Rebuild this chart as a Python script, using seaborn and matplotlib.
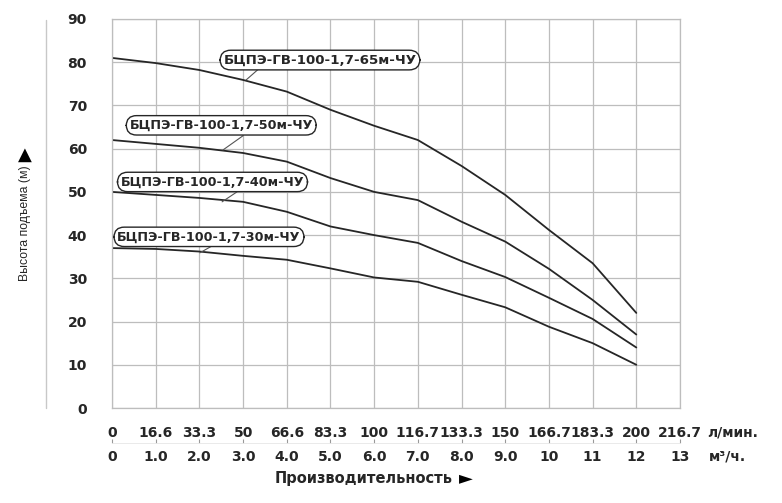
import matplotlib
matplotlib.use("Agg")
import matplotlib.pyplot as plt
import matplotlib.transforms as mtransforms
import seaborn as sns
import pandas as pd

# flow, m3/h
flow = [0, 1, 2, 3, 4, 5, 6, 7, 8, 9, 10, 11, 12]
head_65 = [81, 79.8, 78.2, 75.9, 73.2, 69, 65.3, 62, 56, 49.3, 41.2, 33.5, 22]
head_50 = [62, 61.1, 60.2, 59, 57, 53.2, 50, 48.1, 43.1, 38.5, 32.2, 25, 17]
head_40 = [50, 49.3, 48.6, 47.7, 45.4, 42, 40, 38.2, 34, 30.3, 25.5, 20.6, 14]
head_30 = [37, 36.8, 36.2, 35.2, 34.3, 32.3, 30.2, 29.2, 26.2, 23.3, 18.8, 15, 10]

names = ["БЦПЭ-ГВ-100-1,7-65м-ЧУ", "БЦПЭ-ГВ-100-1,7-50м-ЧУ",
         "БЦПЭ-ГВ-100-1,7-40м-ЧУ", "БЦПЭ-ГВ-100-1,7-30м-ЧУ"]
heads = [head_65, head_50, head_40, head_30]

lpm_ticks = [0, 1, 2, 3, 4, 5, 6, 7, 8, 9, 10, 11, 12, 13]
lpm_labels = ["0", "16.6", "33.3", "50", "66.6", "83.3", "100", "116.7",
              "133.3", "150", "166.7", "183.3", "200", "216.7"]
m3h_labels = ["0", "1.0", "2.0", "3.0", "4.0", "5.0", "6.0", "7.0",
              "8.0", "9.0", "10", "11", "12", "13"]
y_ticks = [0, 10, 20, 30, 40, 50, 60, 70, 80, 90]

# label box centres and leader lines (data coords)
box_xy = [(4.76, 80.5), (2.5, 65.4), (2.3, 52.3), (2.22, 39.6)]
leader = [((3.52, 79.9), (3.07, 75.9)), ((3.0, 63.0), (2.54, 59.7)),
          ((2.86, 50.0), (2.52, 47.7)), ((2.29, 37.5), (2.01, 35.9))]

sns.set_style("white")
plt.rcParams['font.family'] = ['DejaVu Sans']
INK = "#262626"
BOLD = dict(fontweight="bold", family="DejaVu Sans", color=INK)

df = pd.concat([pd.DataFrame({"flow": flow, "head": h, "pump": n})
                for n, h in zip(names, heads)])

fig = plt.figure(figsize=(7.82, 5.03), dpi=100)
ax = fig.add_axes([112 / 782, 1 - 408 / 503, 568 / 782, 389 / 503])

sns.lineplot(data=df, x="flow", y="head", hue="pump",
             palette=[INK] * 4, linewidth=1.3, legend=False, ax=ax)

ax.set_xlim(0, 13)
ax.set_ylim(0, 90)
ax.set_xticks(lpm_ticks)
ax.set_xticklabels(lpm_labels)
ax.set_yticks(y_ticks)
ax.grid(True, color="#bdbdbd", linewidth=0.9)
for s in ax.spines.values():
    s.set_color("#bdbdbd")
    s.set_linewidth(0.9)
ax.tick_params(axis="both", length=0, labelsize=10, colors=INK)
ax.tick_params(axis="x", pad=13)
ax.tick_params(axis="y", pad=18)
for t in ax.get_xticklabels() + ax.get_yticklabels():
    t.set_fontweight("bold")
ax.set_xlabel("")
ax.set_ylabel("")

# second flow axis (m3/h)
sec = ax.secondary_xaxis(-0.09)
sec.grid(False)
sec.set_xticks(lpm_ticks)
sec.set_xticklabels(m3h_labels)
sec.spines["bottom"].set_color("#e6e6e6")
sec.spines["bottom"].set_linewidth(0.6)
sec.tick_params(direction="in", length=3, width=0.8, color="#999999",
                labelsize=10, labelcolor=INK, pad=5)
for t in sec.get_xticklabels():
    t.set_fontweight("bold")

trans = mtransforms.blended_transform_factory(ax.transData, ax.transAxes)
ax.text(13.62, -0.062, "л/мин.", transform=trans, ha="left", va="center",
        fontsize=10, **BOLD)
ax.text(13.66, -0.124, "м³/ч.", transform=trans, ha="left", va="center",
        fontsize=10, **BOLD)

# pump name boxes
for i, n in enumerate(names):
    (x0, y0), (x1, y1) = leader[i]
    ax.plot([x0, x1], [y0, y1], color="#555555", linewidth=0.8)
    ax.text(box_xy[i][0], box_xy[i][1], n, ha="center", va="center",
            fontsize=9.6 if i == 0 else 9.2, **BOLD,
            bbox=dict(boxstyle="round,pad=0.25,rounding_size=0.8",
                      facecolor="white", edgecolor=INK, linewidth=1.0))

# left decorative rule
ax.plot([-0.116, -0.116], [0.0, 0.997], transform=ax.transAxes,
        color="#c8c8c8", linewidth=1.0, clip_on=False)

fig.text(25 / 782, 1 - 223 / 503, "Высота подъема (м)", rotation=90,
         ha="center", va="center", fontsize=8.8, color=INK,
         family="Liberation Sans")
fig.text(25 / 782, 1 - 155 / 503, "▲", ha="center", va="center",
         fontsize=13, color="black", family="DejaVu Sans")
fig.text(275 / 782, 1 - 478 / 503, "Производительность", ha="left",
         va="center", fontsize=10.5, **BOLD)
fig.text(466 / 782, 1 - 478 / 503, "►", ha="center", va="center",
         fontsize=13, color="black", family="DejaVu Sans")

fig.savefig("out.png", dpi=100)
